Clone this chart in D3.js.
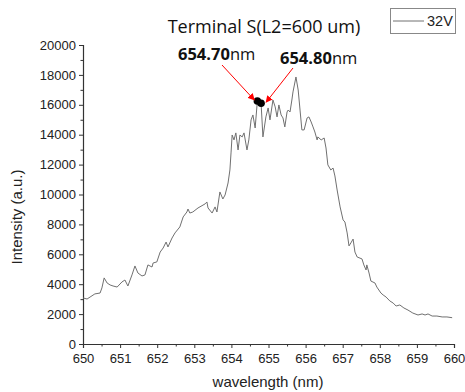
<!DOCTYPE html>
<html>
<head>
<meta charset="utf-8">
<script src="https://cdn.jsdelivr.net/npm/d3@7"></script>
<style>
  body { margin: 0; background: #fff; }
  svg { display: block; }
</style>
</head>
<body>
<svg id="chart" width="465" height="392"></svg>
<script>
(function() {

  // spectrum
  var wavelength = [650.00, 650.11, 650.19, 650.32, 650.46, 650.51, 650.57, 650.65, 650.73, 650.81,
    650.92, 651.05, 651.13, 651.21, 651.32, 651.40, 651.48, 651.59, 651.67, 651.75,
    651.86, 651.89, 651.99, 652.08, 652.16, 652.24, 652.29, 652.40, 652.48, 652.61,
    652.70, 652.80, 652.83, 652.88, 652.96, 653.10, 653.29, 653.34, 653.37, 653.48,
    653.56, 653.61, 653.69, 653.77, 653.83, 653.91, 653.96, 653.99, 654.02, 654.07,
    654.12, 654.18, 654.23, 654.29, 654.34, 654.42, 654.47, 654.53, 654.58, 654.64,
    654.70, 654.74, 654.80, 654.85, 654.93, 654.99, 655.04, 655.12, 655.18, 655.23,
    655.28, 655.34, 655.39, 655.44, 655.50, 655.53, 655.58, 655.63, 655.66, 655.74,
    655.80, 655.85, 655.90, 655.96, 656.04, 656.09, 656.15, 656.20, 656.25, 656.31,
    656.33, 656.42, 656.50, 656.55, 656.60, 656.68, 656.74, 656.79, 656.85, 656.93,
    657.01, 657.06, 657.12, 657.17, 657.22, 657.28, 657.33, 657.39, 657.52, 657.57,
    657.63, 657.65, 657.71, 657.76, 657.87, 657.92, 658.03, 658.09, 658.17, 658.27,
    658.36, 658.44, 658.54, 658.65, 658.76, 658.89, 659.03, 659.14, 659.22, 659.30,
    659.41, 659.54, 659.68, 659.81, 659.95];
  var intensity = [3080, 3010, 3140, 3350, 3410, 3750, 4420, 4080, 3950, 3880,
    3810, 4150, 4280, 3880, 4620, 5220, 4750, 4550, 4620, 5290,
    5150, 5420, 5490, 6150, 6420, 6820, 6490, 7090, 7430, 7830,
    8500, 8830, 9030, 8760, 8830, 9100, 9370, 9500, 9100, 8760,
    9170, 8830, 10170, 9700, 9970, 10770, 11640, 12780, 13980, 13650,
    14120, 12980, 13980, 13850, 14120, 12980, 13650, 14990, 15320, 14450,
    16250, 16320, 16100, 13850, 15190, 15790, 14990, 16320, 15860, 15190,
    15990, 15320, 15120, 14520, 15520, 15650, 15520, 16320, 16860, 17860,
    16990, 15650, 14320, 14320, 15120, 15190, 14850, 14520, 14180, 13650,
    13850, 13650, 13780, 13110, 11980, 11640, 11770, 11240, 10300, 9170,
    8300, 8160, 7430, 6560, 6760, 7020, 6150, 5820, 5690, 5290,
    4950, 5290, 4750, 4210, 4080, 3810, 3410, 3280, 3140, 2880,
    2740, 2540, 2610, 2410, 2270, 2070, 1940, 2010, 1940, 2010,
    1870, 1870, 1810, 1810, 1760];

  var xTicks = [650, 651, 652, 653, 654, 655, 656, 657, 658, 659, 660];
  var yTicks = [0, 2000, 4000, 6000, 8000, 10000, 12000, 14000, 16000, 18000, 20000];

  // the two marked peaks
  var peakWl = [654.70, 654.80];
  var peakI = [16250, 16100];
  var peakLabels = ['654.70', '654.80'];

  var svg = d3.select('#chart');

  var x = d3.scaleLinear().domain([650, 660]).range([83, 454]);
  var y = d3.scaleLinear().domain([0, 20000]).range([344, 45]);

  var axisFont = 'Liberation Sans, Arial, sans-serif';

  // minor ticks
  var xMinor = d3.range(650.5, 660, 1);
  var yMinor = d3.range(1000, 20000, 2000);

  var gx = svg.append('g')
    .attr('transform', 'translate(0,344)')
    .call(d3.axisBottom(x).tickValues(xTicks).tickSize(4).tickFormat(d3.format('d')));
  svg.append('g')
    .attr('transform', 'translate(0,344)')
    .call(d3.axisBottom(x).tickValues(xMinor).tickSize(2.5).tickFormat(''))
    .select('.domain').remove();

  var gy = svg.append('g')
    .attr('transform', 'translate(83,0)')
    .call(d3.axisLeft(y).tickValues(yTicks).tickSize(4).tickFormat(d3.format('d')));
  svg.append('g')
    .attr('transform', 'translate(83,0)')
    .call(d3.axisLeft(y).tickValues(yMinor).tickSize(2.5).tickFormat(''))
    .select('.domain').remove();

  svg.selectAll('.domain').attr('stroke', '#333').attr('stroke-width', 1.2);
  svg.selectAll('.tick line').attr('stroke', '#333');
  gx.selectAll('.tick text')
    .attr('font-family', axisFont).attr('font-size', 13).attr('fill', '#222').attr('dy', '0.9em');
  gy.selectAll('.tick text')
    .attr('font-family', axisFont).attr('font-size', 13).attr('fill', '#222').attr('x', -7);

  // axis titles
  svg.append('text')
    .attr('x', 268)
    .attr('y', 387)
    .attr('text-anchor', 'middle')
    .attr('font-family', axisFont)
    .attr('font-size', 15)
    .attr('fill', '#222')
    .text('wavelength (nm)');

  svg.append('text')
    .attr('transform', 'translate(22,217) rotate(-90)')
    .attr('text-anchor', 'middle')
    .attr('font-family', axisFont)
    .attr('font-size', 15)
    .attr('fill', '#222')
    .text('Intensity (a.u.)');

  // spectrum line
  var pts = wavelength.map(function(w, i) { return [w, intensity[i]]; });
  var line = d3.line()
    .x(function(d) { return x(d[0]); })
    .y(function(d) { return y(d[1]); });

  svg.append('path')
    .datum(pts)
    .attr('d', line)
    .attr('fill', 'none')
    .attr('stroke', '#707070')
    .attr('stroke-width', 1);

  // title
  svg.append('text')
    .attr('x', 264)
    .attr('y', 33)
    .attr('text-anchor', 'middle')
    .attr('font-family', 'Open Sans, sans-serif')
    .attr('font-size', 18)
    .attr('fill', '#111')
    .text('Terminal S(L2=600 um)');

  // legend
  var leg = svg.append('g');
  leg.append('rect')
    .attr('x', 390.5).attr('y', 8.5)
    .attr('width', 65).attr('height', 25)
    .attr('fill', '#fff')
    .attr('stroke', '#888');
  leg.append('line')
    .attr('x1', 393).attr('x2', 424)
    .attr('y1', 21).attr('y2', 21)
    .attr('stroke', '#707070');
  leg.append('text')
    .attr('x', 427).attr('y', 26)
    .attr('font-family', axisFont)
    .attr('font-size', 14.5)
    .attr('fill', '#222')
    .text('32V');

  // arrows and peak markers
  var defs = svg.append('defs');
  defs.append('marker')
    .attr('id', 'arrow')
    .attr('viewBox', '0 0 10 10')
    .attr('refX', 9).attr('refY', 5)
    .attr('markerWidth', 7).attr('markerHeight', 7)
    .attr('markerUnits', 'userSpaceOnUse')
    .attr('orient', 'auto')
    .append('path')
    .attr('d', 'M0,0L10,5L0,10z')
    .attr('fill', '#f00');

  var labelPos = [[178, 60], [280, 64]];
  var arrowStart = [[222, 65], [293, 68]];

  svg.selectAll('.peak')
    .data(peakWl)
    .enter().append('circle')
    .attr('class', 'peak')
    .attr('cx', function(d) { return x(d); })
    .attr('cy', function(d, i) { return y(peakI[i]); })
    .attr('r', 3.8)
    .attr('fill', '#000');

  peakWl.forEach(function(w, i) {
    var tx = x(w) + (i === 0 ? -3 : 5);
    var ty = y(peakI[i]) - 1;
    svg.append('line')
      .attr('x1', arrowStart[i][0]).attr('y1', arrowStart[i][1])
      .attr('x2', tx).attr('y2', ty)
      .attr('stroke', '#f00')
      .attr('stroke-width', 1)
      .attr('marker-end', 'url(#arrow)');

    var t = svg.append('text')
      .attr('x', labelPos[i][0])
      .attr('y', labelPos[i][1])
      .attr('font-family', 'Open Sans, sans-serif')
      .attr('font-size', 16.5)
      .attr('fill', '#111');
    t.append('tspan').attr('font-weight', 'bold').text(peakLabels[i]);
    t.append('tspan').text('nm');
  });

})();
</script>
</body>
</html>
